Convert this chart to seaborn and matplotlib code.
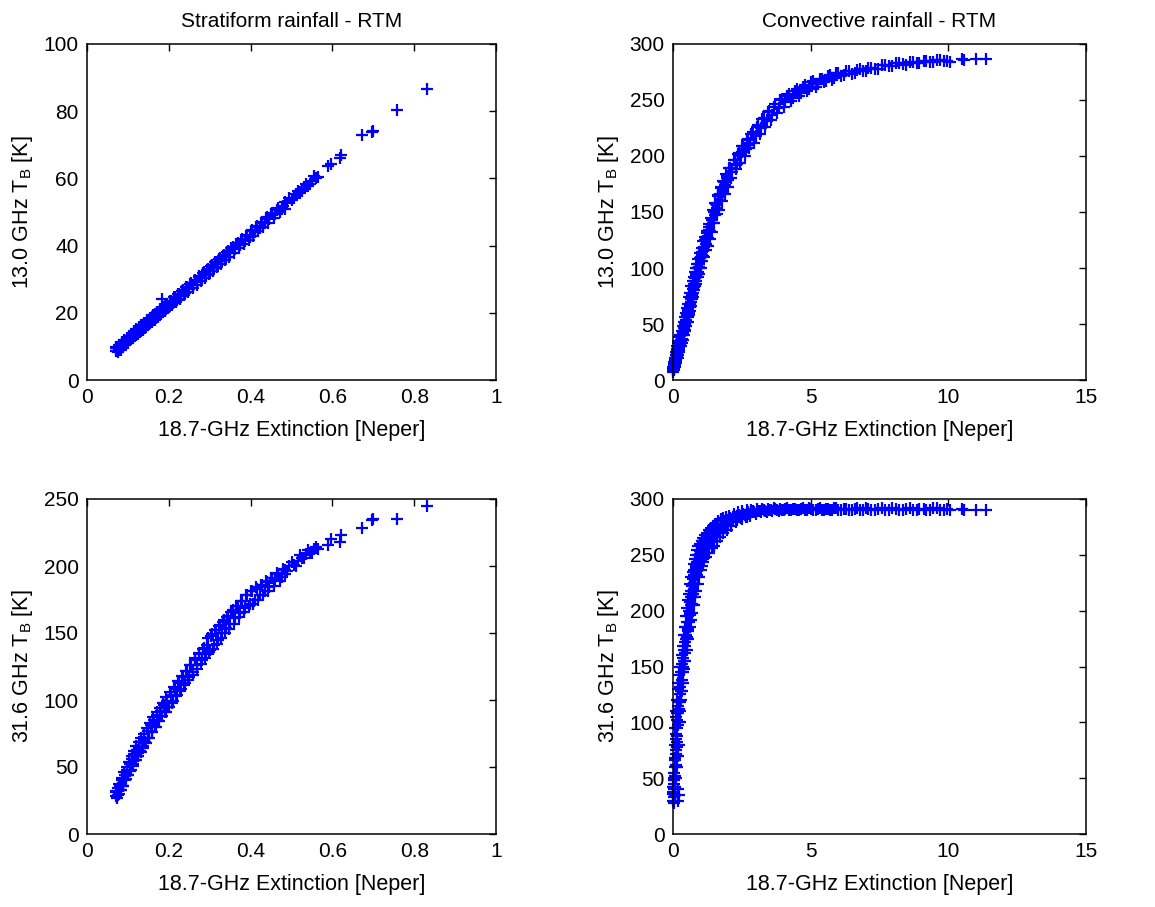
import matplotlib
matplotlib.use("Agg")
import matplotlib.pyplot as plt
import seaborn as sns
import pandas as pd

# ---- stratiform profiles: 18.7-GHz extinction and simulated brightness temperatures ----
strat_ext = [
    0.070, 0.072, 0.074, 0.076, 0.078, 0.080, 0.083, 0.086, 0.089, 0.092,
    0.095, 0.098, 0.101, 0.104, 0.107, 0.110, 0.113, 0.116, 0.119, 0.122,
    0.125, 0.128, 0.131, 0.134, 0.137, 0.140, 0.144, 0.148, 0.152, 0.156,
    0.160, 0.164, 0.168, 0.172, 0.176, 0.180, 0.184, 0.188, 0.192, 0.196,
    0.200, 0.205, 0.210, 0.215, 0.220, 0.225, 0.230, 0.235, 0.240, 0.245,
    0.250, 0.255, 0.260, 0.265, 0.270, 0.275, 0.280, 0.285, 0.290, 0.295,
    0.300, 0.305, 0.310, 0.315, 0.320, 0.325, 0.330, 0.335, 0.340, 0.345,
    0.350, 0.356, 0.362, 0.368, 0.374, 0.380, 0.386, 0.392, 0.398, 0.404,
    0.410, 0.416, 0.422, 0.428, 0.434, 0.440, 0.446, 0.452, 0.460, 0.468,
    0.476, 0.484, 0.484, 0.495, 0.505, 0.515, 0.525, 0.535, 0.545, 0.555,
    0.566, 0.590, 0.596, 0.618, 0.622, 0.672, 0.696, 0.700, 0.759, 0.832,
    0.071, 0.075, 0.079, 0.082, 0.085, 0.088, 0.091, 0.094, 0.097, 0.100,
    0.103, 0.106, 0.109, 0.112, 0.115, 0.118, 0.121, 0.124, 0.127, 0.130,
    0.133, 0.136, 0.139, 0.142, 0.146, 0.150, 0.154, 0.158, 0.162, 0.166,
    0.170, 0.174, 0.178, 0.182, 0.186, 0.190, 0.194, 0.198, 0.203, 0.208,
    0.213, 0.218, 0.223, 0.228, 0.233, 0.238, 0.243, 0.248, 0.253, 0.258,
    0.263, 0.268, 0.273, 0.278, 0.283, 0.288, 0.293, 0.298, 0.303, 0.308,
    0.313, 0.318, 0.323, 0.328, 0.333, 0.338, 0.343, 0.348, 0.353, 0.359,
    0.365, 0.371, 0.377, 0.383, 0.389, 0.395, 0.401, 0.407, 0.413, 0.419,
    0.425, 0.431, 0.437, 0.443, 0.449, 0.456, 0.464, 0.472, 0.480, 0.490,
    0.500, 0.510, 0.520, 0.530, 0.540, 0.550, 0.560,
]
strat_tb13 = [
    8.7, 9.5, 8.6, 9.8, 9.0, 10.2, 9.6, 10.9, 10.2, 11.6,
    10.8, 12.2, 11.5, 12.9, 12.1, 13.5, 12.7, 14.1, 13.4, 14.8,
    14.0, 15.4, 14.6, 16.0, 15.2, 16.7, 15.9, 17.5, 16.7, 18.4,
    17.6, 19.2, 18.4, 20.1, 19.3, 20.9, 24.2, 21.8, 21.0, 22.6,
    21.8, 23.6, 22.9, 24.6, 23.9, 25.7, 25.0, 26.7, 26.0, 27.8,
    27.1, 28.8, 28.2, 29.9, 29.2, 30.9, 30.3, 32.0, 31.3, 33.1,
    32.4, 34.1, 33.4, 35.2, 34.5, 36.2, 35.6, 37.3, 36.6, 38.3,
    37.7, 39.5, 38.9, 40.8, 40.2, 42.0, 41.5, 43.3, 42.7, 44.6,
    44.0, 45.9, 45.3, 47.1, 46.6, 48.4, 47.8, 49.7, 49.3, 51.3,
    51.0, 53.0, 51.0, 54.2, 54.1, 56.3, 56.2, 58.4, 58.3, 60.6,
    60.5, 63.6, 64.3, 66.0, 67.0, 73.0, 73.7, 74.0, 80.4, 86.6,
    9.9, 8.4, 10.5, 9.0, 11.2, 9.8, 11.9, 10.5, 12.5, 11.0,
    13.2, 11.8, 13.8, 12.4, 14.5, 13.0, 15.1, 13.7, 15.8, 14.3,
    16.4, 15.0, 17.0, 15.6, 17.8, 16.4, 18.6, 17.2, 19.4, 18.0,
    20.2, 18.8, 21.0, 19.6, 21.8, 20.5, 22.6, 21.3, 23.6, 22.2,
    24.6, 23.2, 25.6, 24.2, 26.6, 25.2, 27.6, 26.2, 28.6, 27.3,
    29.7, 28.3, 30.7, 29.4, 31.8, 30.4, 32.8, 31.5, 34.0, 32.5,
    35.0, 33.6, 36.0, 34.6, 37.0, 35.6, 38.1, 36.7, 39.3, 37.9,
    40.5, 39.2, 41.8, 40.4, 43.0, 41.8, 44.3, 43.0, 45.6, 44.3,
    46.8, 45.6, 48.1, 46.8, 49.4, 48.2, 50.6, 50.0, 51.8, 52.8,
    53.5, 55.4, 55.8, 57.4, 57.7, 59.3, 60.2,
]
strat_tb31 = [
    28, 32, 27, 34, 30, 36, 33, 40, 36, 44,
    41, 48, 44, 52, 48, 56, 52, 60, 55, 63,
    58, 66, 61, 69, 64, 72, 68, 77, 72, 81,
    76, 85, 80, 89, 84, 92, 88, 96, 91, 99,
    95, 104, 99, 108, 104, 113, 108, 117, 113, 122,
    117, 126, 121, 131, 126, 135, 130, 139, 134, 146,
    137, 149, 141, 152, 145, 156, 150, 160, 154, 163,
    157, 167, 161, 170, 165, 174, 169, 178, 172, 181,
    175, 183, 178, 186, 181, 188, 184, 191, 190, 194,
    192, 197, 194, 200, 201, 204, 206, 209, 210, 213,
    213, 216, 220, 218, 223, 228, 234, 235, 235, 245,
    31, 29, 37, 33, 42, 36, 46, 40, 50, 44,
    54, 47, 58, 51, 62, 55, 66, 58, 69, 62,
    72, 66, 75, 69, 79, 72, 83, 76, 87, 80,
    91, 84, 94, 88, 98, 91, 102, 95, 106, 98,
    110, 103, 114, 107, 118, 111, 122, 115, 126, 119,
    130, 123, 134, 127, 138, 131, 141, 136, 148, 138,
    152, 142, 155, 146, 158, 150, 162, 153, 166, 157,
    170, 162, 174, 166, 178, 170, 181, 172, 184, 175,
    186, 178, 189, 181, 191, 185, 195, 189, 198, 196,
    203, 200, 208, 206, 212, 210, 214,
]

# ---- convective profiles ----
conv_ext = [
    0.00, 0.01, 0.02, 0.03, 0.04, 0.05, 0.06, 0.07, 0.08, 0.09,
    0.10, 0.11, 0.12, 0.13, 0.14, 0.15, 0.16, 0.17, 0.18, 0.19,
    0.20, 0.22, 0.24, 0.26, 0.28, 0.30, 0.32, 0.34, 0.36, 0.38,
    0.40, 0.42, 0.44, 0.46, 0.48, 0.50, 0.52, 0.54, 0.56, 0.58,
    0.60, 0.62, 0.64, 0.66, 0.68, 0.70, 0.72, 0.74, 0.76, 0.78,
    0.80, 0.82, 0.84, 0.86, 0.88, 0.90, 0.93, 0.96, 0.99, 1.02,
    1.05, 1.08, 1.11, 1.14, 1.17, 1.20, 1.24, 1.28, 1.32, 1.36,
    1.40, 1.44, 1.48, 1.52, 1.56, 1.60, 1.65, 1.70, 1.75, 1.80,
    1.85, 1.90, 1.95, 2.00, 2.08, 2.16, 2.24, 2.32, 2.40, 2.48,
    2.56, 2.64, 2.72, 2.80, 2.90, 3.00, 3.10, 3.20, 3.30, 3.40,
    3.50, 3.60, 3.72, 3.84, 3.96, 4.08, 4.20, 4.35, 4.50, 4.65,
    4.80, 4.95, 5.10, 5.25, 5.40, 5.55, 5.70, 5.85, 6.00, 6.20,
    6.40, 6.60, 6.80, 7.00, 7.20, 7.45, 7.70, 7.95, 8.20, 8.45,
    8.70, 8.95, 9.20, 9.45, 9.70, 9.95, 10.07, 10.50, 10.58, 11.00,
    11.37,
    0.005, 0.015, 0.025, 0.035, 0.045, 0.055, 0.065, 0.075, 0.085, 0.095,
    0.105, 0.115, 0.125, 0.135, 0.145, 0.155, 0.165, 0.175, 0.185, 0.195,
    0.21, 0.23, 0.25, 0.27, 0.29, 0.31, 0.33, 0.35, 0.37, 0.39,
    0.41, 0.43, 0.45, 0.47, 0.49, 0.51, 0.53, 0.55, 0.57, 0.59,
    0.61, 0.63, 0.65, 0.67, 0.69, 0.71, 0.73, 0.75, 0.77, 0.79,
    0.81, 0.83, 0.85, 0.87, 0.89, 0.92, 0.95, 0.98, 1.01, 1.04,
    1.07, 1.10, 1.13, 1.16, 1.19, 1.22, 1.26, 1.30, 1.34, 1.38,
    1.42, 1.46, 1.50, 1.54, 1.58, 1.63, 1.68, 1.73, 1.78, 1.83,
    1.88, 1.93, 1.98, 2.04, 2.12, 2.20, 2.28, 2.36, 2.44, 2.52,
    2.60, 2.68, 2.76, 2.85, 2.95, 3.05, 3.15, 3.25, 3.35, 3.45,
    3.55, 3.66, 3.78, 3.90, 4.02, 4.14, 4.28, 4.42, 4.57, 4.72,
    4.88, 5.03, 5.18, 5.33, 5.48, 5.63, 5.78, 5.93, 6.10, 6.30,
    6.50, 6.70, 6.90, 7.10, 7.35, 7.60, 7.85, 8.10, 8.35, 8.60,
    8.85, 9.10, 9.35, 9.60, 9.85,
    0.22, 0.25, 0.27, 0.30, 0.35, 0.40, 0.45, 0.50, 0.55, 0.60,
    0.65, 0.70, 0.75, 0.80, 0.85, 0.90, 0.95, 1.00, 1.05, 1.10,
    1.20, 1.30, 1.40, 1.50, 1.60, 1.70, 1.80, 1.95, 2.10, 2.30,
    2.50, 2.70, 0.03, 0.06, 0.10, 0.14, 0.18, 0.20,
]
conv_tb13 = [
    9, 12, 10, 14, 11, 16, 13, 18, 15, 20,
    17, 22, 19, 24, 21, 26, 23, 25, 28, 25,
    30, 28, 33, 31, 36, 34, 40, 37, 43, 41,
    47, 44, 50, 48, 54, 52, 58, 56, 63, 60,
    68, 65, 72, 70, 76, 74, 81, 78, 86, 83,
    91, 88, 95, 92, 100, 96, 104, 101, 109, 106,
    114, 111, 119, 116, 125, 121, 131, 127, 137, 133,
    143, 140, 150, 147, 157, 154, 164, 161, 171, 168,
    177, 174, 182, 179, 189, 186, 196, 193, 203, 200,
    209, 206, 215, 212, 221, 218, 228, 225, 234, 231,
    240, 237, 246, 243, 251, 248, 255, 252, 260, 256,
    263, 260, 267, 264, 269, 267, 272, 270, 274, 272,
    276, 274, 278, 276, 279, 278, 281, 280, 283, 281,
    284, 283, 285, 284, 286, 285, 284, 287, 286, 287,
    287,
    7, 10, 13, 9, 15, 12, 17, 14, 19, 22,
    15, 25, 20, 28, 24, 30, 20, 33, 22, 35,
    26, 38, 30, 40, 30, 44, 33, 48, 36, 52,
    40, 56, 45, 60, 48, 64, 52, 68, 58, 74,
    62, 78, 66, 84, 72, 88, 74, 92, 80, 96,
    84, 100, 86, 104, 92, 108, 95, 113, 100, 118,
    106, 124, 110, 128, 116, 133, 120, 139, 126, 145,
    132, 152, 140, 158, 148, 165, 152, 172, 160, 178,
    166, 184, 172, 189, 180, 196, 188, 202, 194, 209,
    200, 214, 207, 220, 212, 226, 220, 233, 226, 239,
    232, 244, 238, 250, 244, 254, 249, 258, 254, 262,
    258, 266, 262, 269, 266, 271, 268, 274, 271, 276,
    273, 277, 276, 279, 278, 281, 280, 283, 282, 284,
    283, 285, 284, 286, 285,
    29, 31, 34, 36, 42, 46, 50, 56, 62, 66,
    72, 76, 84, 86, 94, 100, 104, 110, 112, 118,
    127, 134, 143, 150, 156, 166, 170, 180, 186, 192,
    204, 210, 12, 15, 18, 23, 27, 25,
]
conv_tb31 = [
    38, 30, 45, 33, 40, 50, 42, 60, 35, 68,
    75, 62, 85, 78, 95, 88, 102, 30, 108, 98,
    118, 112, 125, 132, 128, 145, 138, 152, 158, 150,
    165, 172, 162, 178, 185, 176, 190, 195, 184, 200,
    208, 196, 212, 218, 206, 222, 228, 215, 232, 236,
    224, 240, 238, 244, 232, 246, 250, 240, 253, 248,
    256, 246, 258, 262, 252, 260, 265, 256, 266, 270,
    262, 268, 273, 266, 274, 270, 276, 272, 278, 274,
    280, 276, 281, 278, 283, 280, 284, 281, 286, 283,
    287, 284, 288, 285, 289, 287, 289, 288, 290, 288,
    290, 289, 291, 289, 290, 291, 290, 291, 290, 291,
    290, 292, 290, 291, 290, 291, 290, 292, 290, 291,
    290, 291, 290, 292, 290, 291, 290, 292, 290, 291,
    290, 291, 290, 292, 290, 291, 290, 291, 290, 290,
    290,
    42, 36, 28, 55, 48, 80, 66, 95, 52, 105,
    90, 110, 72, 120, 108, 82, 130, 115, 40, 135,
    100, 142, 118, 150, 135, 160, 128, 168, 145, 178,
    155, 185, 168, 195, 175, 202, 182, 210, 190, 215,
    198, 224, 205, 230, 212, 235, 218, 242, 225, 246,
    230, 250, 234, 254, 238, 258, 242, 260, 245, 262,
    250, 265, 252, 268, 256, 270, 260, 272, 262, 274,
    266, 276, 268, 278, 270, 280, 272, 282, 275, 283,
    278, 284, 280, 285, 282, 287, 283, 288, 285, 289,
    286, 290, 287, 290, 288, 291, 289, 291, 289, 291,
    290, 292, 290, 291, 290, 292, 290, 291, 290, 292,
    290, 291, 290, 292, 290, 291, 290, 292, 290, 291,
    290, 292, 290, 291, 290, 292, 290, 291, 290, 292,
    290, 291, 290, 292, 290,
    80, 100, 110, 120, 135, 148, 155, 165, 175, 185,
    192, 198, 205, 212, 218, 224, 230, 236, 240, 244,
    248, 252, 256, 258, 262, 266, 270, 272, 276, 279,
    282, 284, 48, 35, 50, 60, 70, 35,
]

titles = ["Stratiform rainfall - RTM", "Convective rainfall - RTM"]
xlabel = "18.7-GHz Extinction [Neper]"
ylabels = [r"13.0 GHz T$_{\rm B}$ [K]", r"31.6 GHz T$_{\rm B}$ [K]"]

strat = pd.DataFrame({"ext": strat_ext, "tb13": strat_tb13, "tb31": strat_tb31})
conv = pd.DataFrame({"ext": conv_ext, "tb13": conv_tb13, "tb31": conv_tb31})

sns.set_theme(style="white")
plt.rcParams["font.family"] = ["Liberation Sans", "DejaVu Sans"]
plt.rcParams["mathtext.fontset"] = "custom"
plt.rcParams["mathtext.rm"] = "Liberation Sans"
plt.rcParams["mathtext.it"] = "Liberation Sans:italic"
plt.rcParams["text.color"] = "black"
plt.rcParams["axes.labelcolor"] = "black"

fig = plt.figure(figsize=(11.55, 9.07), dpi=100)
W, H = 1155, 907
# axes boxes in pixel coordinates: left, top, right, bottom
boxes = [
    (87, 44, 496, 380), (673, 44, 1086, 380),
    (87, 499, 496, 834), (673, 499, 1086, 834),
]
axes = [fig.add_axes([l / W, 1 - b / H, (r - l) / W, (b - t) / H]) for l, t, r, b in boxes]

frac_ticks = [0, 0.2, 0.4, 0.6, 0.8, 1]
frac_labels = ["0", "0.2", "0.4", "0.6", "0.8", "1"]
conv_ticks = [0, 5, 10, 15]
conv_labels = ["0", "5", "10", "15"]
panels = [
    (strat, "tb13", (0, 1), frac_ticks, frac_labels, (0, 100), list(range(0, 101, 20))),
    (conv, "tb13", (0, 15), conv_ticks, conv_labels, (0, 300), list(range(0, 301, 50))),
    (strat, "tb31", (0, 1), frac_ticks, frac_labels, (0, 250), list(range(0, 251, 50))),
    (conv, "tb31", (0, 15), conv_ticks, conv_labels, (0, 300), list(range(0, 301, 50))),
]

for i, (ax, (df, col, xlim, xt, xtl, ylim, yt)) in enumerate(zip(axes, panels)):
    sns.scatterplot(data=df, x="ext", y=col, marker="+", color="#0000FF",
                    s=64, linewidth=1.6, ax=ax, legend=False, clip_on=False)
    ax.set_xlim(*xlim)
    ax.set_ylim(*ylim)
    ax.set_xticks(xt)
    ax.set_xticklabels(xtl)
    ax.set_yticks(yt)
    ax.set_yticklabels([str(v) for v in yt])
    ax.tick_params(direction="in", top=True, right=True, length=5, width=1,
                   labelsize=15, colors="black", pad=6)
    for sp in ax.spines.values():
        sp.set_visible(True)
        sp.set_color("black")
        sp.set_linewidth(1.1)
    ax.set_xlabel(xlabel, fontsize=15.5, labelpad=9)
    ax.set_ylabel(ylabels[i // 2], fontsize=15.5, labelpad=6)
    if i < 2:
        ax.set_title(titles[i], fontsize=15, pad=12)

fig.savefig("out.png", dpi=100, facecolor="white")
